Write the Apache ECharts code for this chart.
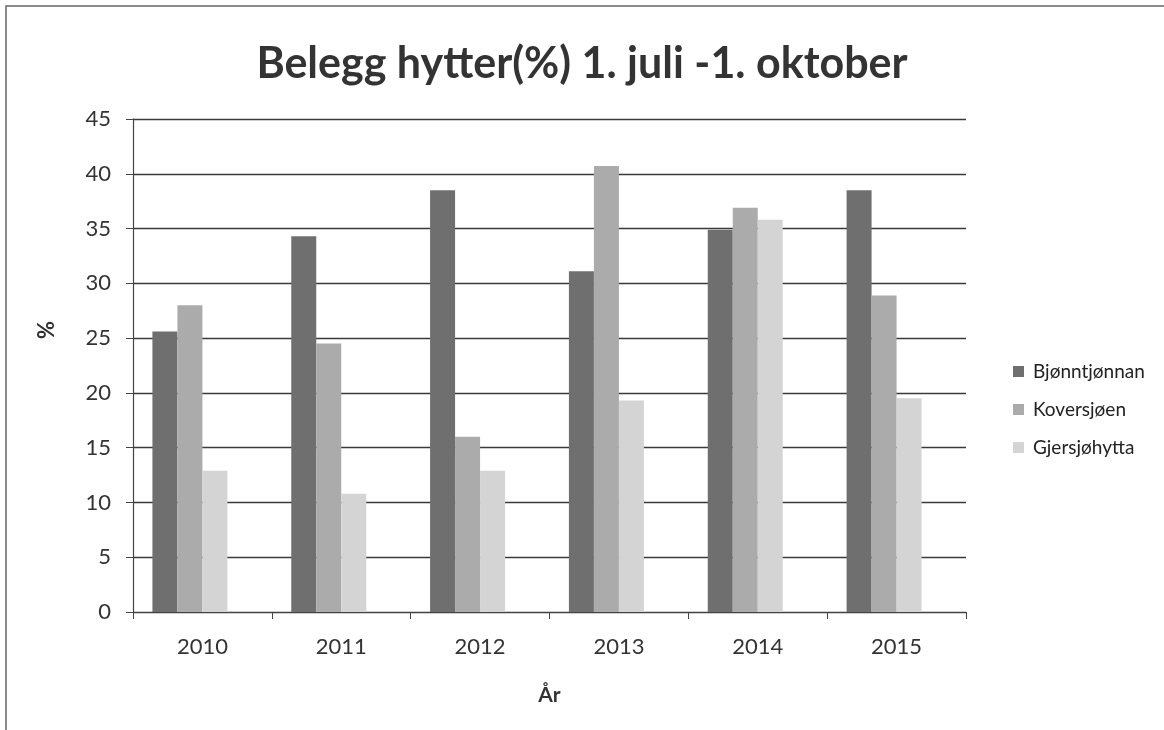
<!DOCTYPE html>
<html>
<head>
<meta charset="utf-8">
<script src="https://cdn.jsdelivr.net/npm/echarts@6/dist/echarts.min.js"></script>
<style>
  html, body { margin: 0; padding: 0; background: #fff; }
  #main { width: 1164px; height: 730px; }
</style>
</head>
<body>
<div id="main"></div>
<script>
// data
const years = ['2010', '2011', '2012', '2013', '2014', '2015'];
const bjonntjonnan = [25.6, 34.3, 38.5, 31.1, 34.9, 38.5];
const koversjoen = [28.0, 24.5, 16.0, 40.7, 36.9, 28.9];
const gjersjohytta = [12.9, 10.8, 12.9, 19.3, 35.8, 19.5];
const emptyCol = [null, null, null, null, null, null]; // empty 4th column in the original sheet
const yTicks = { min: 0, max: 45, interval: 5 };

const font = 'Lato, "Open Sans", sans-serif';

let myChart = echarts.init(document.getElementById('main'), null, { renderer: 'canvas' });

function bar(name, data, color) {
  return {
    name: name,
    type: 'bar',
    data: data,
    barWidth: 25,
    barGap: '0%',
    itemStyle: { color: color },
    emphasis: { disabled: true }
  };
}

var option = {
  backgroundColor: '#fff',
  animation: false,
  title: {
    text: 'Belegg hytter(%) 1. juli -1. oktober',
    left: 'center',
    top: 38,
    textStyle: { fontFamily: font, fontWeight: 'bold', fontSize: 43, color: '#333' }
  },
  graphic: [
    {
      type: 'rect',
      shape: { x: 6, y: 6, width: 1300, height: 900 },
      style: { fill: 'none', stroke: '#666', lineWidth: 1.5 },
      silent: true
    },
    {
      type: 'text',
      x: 47, y: 330,
      rotation: Math.PI / 2,
      style: { text: '%', font: 'bold 22px ' + font, fill: '#333', align: 'center', verticalAlign: 'middle' }
    }
  ],
  legend: {
    orient: 'vertical',
    left: 1008,
    top: 357,
    itemWidth: 11,
    itemHeight: 11,
    itemGap: 19,
    icon: 'rect',
    data: ['Bjønntjønnan', 'Koversjøen', 'Gjersjøhytta'],
    textStyle: { fontFamily: font, fontSize: 19, color: '#222', padding: [0, 0, 0, 4] }
  },
  grid: { left: 133, right: 198, top: 119, bottom: 118 },
  xAxis: {
    type: 'category',
    data: years,
    name: 'År',
    nameLocation: 'middle',
    nameGap: 73,
    nameTextStyle: { fontFamily: font, fontWeight: 'bold', fontSize: 21, color: '#333' },
    axisLine: { lineStyle: { color: '#444', width: 1.2 } },
    axisTick: { show: true, length: 7, lineStyle: { color: '#444' } },
    axisLabel: { fontFamily: font, fontSize: 22, color: '#333', margin: 24 }
  },
  yAxis: {
    type: 'value',
    min: yTicks.min,
    max: yTicks.max,
    interval: yTicks.interval,
    axisLine: { show: true, lineStyle: { color: '#444', width: 1.2 } },
    axisTick: { show: true, length: 7, lineStyle: { color: '#444' } },
    axisLabel: { fontFamily: font, fontSize: 22, color: '#333', margin: 22 },
    splitLine: { lineStyle: { color: '#3a3a3a', width: 1.3 } }
  },
  series: [
    bar('Bjønntjønnan', bjonntjonnan, '#6f6f6f'),
    bar('Koversjøen', koversjoen, '#ababab'),
    bar('Gjersjøhytta', gjersjohytta, '#d4d4d4'),
    bar('', emptyCol, '#ffffff')
  ]
};

myChart.setOption(option);
</script>
</body>
</html>
